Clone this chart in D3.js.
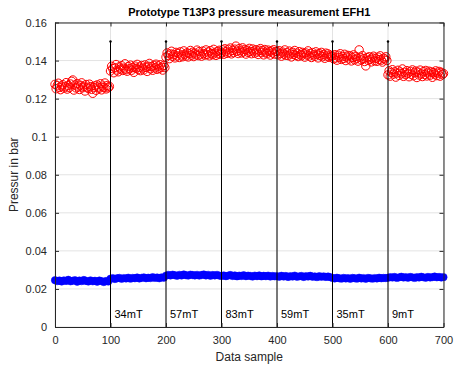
<!DOCTYPE html>
<html>
<head>
<meta charset="utf-8">
<script src="https://cdn.jsdelivr.net/npm/d3@7"></script>
<style>
    body { margin: 0; background: #fff; }
    text { font-family: "Liberation Sans", Arial, Helvetica, sans-serif; }
</style>
</head>
<body>
<div id="demo"></div>
<script>

// sample numbers of the plotted points
const redSamples = d3.range(0, 701, 2);
const blueSamples = d3.range(0, 701, 4);

// pressure, red open circles (every 2nd sample)
const redValues = [
    0.1275, 0.1252, 0.1268, 0.1281, 0.1259, 0.1247, 0.1266, 0.1273, 0.1255, 0.1262,
    0.1284, 0.1250, 0.1269, 0.1258, 0.1277, 0.1291, 0.1298, 0.1245, 0.1271, 0.1256,
    0.1279, 0.1261, 0.1248, 0.1270, 0.1283, 0.1257, 0.1265, 0.1240, 0.1274, 0.1260,
    0.1253, 0.1276, 0.1263, 0.1249, 0.1228, 0.1258, 0.1267, 0.1244, 0.1272, 0.1261,
    0.1255, 0.1278, 0.1246, 0.1266, 0.1259, 0.1282, 0.1251, 0.1269, 0.1257, 0.1264,

    0.1345, 0.1370, 0.1358, 0.1336, 0.1362, 0.1379, 0.1350, 0.1341, 0.1367, 0.1355,
    0.1373, 0.1348, 0.1360, 0.1383, 0.1352, 0.1344, 0.1369, 0.1357, 0.1376, 0.1349,
    0.1363, 0.1338, 0.1371, 0.1359, 0.1380, 0.1353, 0.1366, 0.1347, 0.1374, 0.1361,
    0.1351, 0.1377, 0.1364, 0.1343, 0.1370, 0.1385, 0.1356, 0.1368, 0.1349, 0.1375,
    0.1362, 0.1381, 0.1354, 0.1372, 0.1359, 0.1378, 0.1365, 0.1350, 0.1374, 0.1363,

    0.1418, 0.1440, 0.1427, 0.1410, 0.1435, 0.1449, 0.1422, 0.1431, 0.1414, 0.1443,
    0.1425, 0.1438, 0.1416, 0.1446, 0.1429, 0.1420, 0.1451, 0.1433, 0.1424, 0.1441,
    0.1419, 0.1436, 0.1453, 0.1428, 0.1444, 0.1421, 0.1439, 0.1430, 0.1455, 0.1426,
    0.1447, 0.1434, 0.1423, 0.1450, 0.1437, 0.1429, 0.1456, 0.1432, 0.1445, 0.1425,
    0.1452, 0.1438, 0.1431, 0.1459, 0.1440, 0.1427, 0.1448, 0.1435, 0.1454, 0.1433,

    0.1441, 0.1456, 0.1433, 0.1462, 0.1447, 0.1438, 0.1459, 0.1444, 0.1466, 0.1435,
    0.1453, 0.1442, 0.1460, 0.1476, 0.1449, 0.1437, 0.1463, 0.1451, 0.1440, 0.1467,
    0.1446, 0.1458, 0.1434, 0.1455, 0.1443, 0.1464, 0.1448, 0.1436, 0.1461, 0.1450,
    0.1439, 0.1457, 0.1445, 0.1432, 0.1454, 0.1463, 0.1441, 0.1452, 0.1430, 0.1458,
    0.1444, 0.1436, 0.1455, 0.1447, 0.1429, 0.1451, 0.1440, 0.1457, 0.1434, 0.1448,

    0.1448, 0.1430, 0.1452, 0.1437, 0.1423, 0.1445, 0.1434, 0.1456, 0.1428, 0.1441,
    0.1426, 0.1450, 0.1435, 0.1419, 0.1444, 0.1432, 0.1453, 0.1427, 0.1439, 0.1421,
    0.1447, 0.1431, 0.1425, 0.1443, 0.1436, 0.1418, 0.1440, 0.1429, 0.1451, 0.1424,
    0.1438, 0.1416, 0.1442, 0.1430, 0.1422, 0.1446, 0.1433, 0.1414, 0.1437, 0.1426,
    0.1443, 0.1420, 0.1431, 0.1412, 0.1439, 0.1424, 0.1435, 0.1417, 0.1428, 0.1421,

    0.1425, 0.1409, 0.1431, 0.1414, 0.1402, 0.1428, 0.1417, 0.1436, 0.1406, 0.1421,
    0.1411, 0.1433, 0.1400, 0.1419, 0.1427, 0.1408, 0.1424, 0.1398, 0.1415, 0.1430,
    0.1404, 0.1422, 0.1412, 0.1397, 0.1456, 0.1418, 0.1403, 0.1426, 0.1410, 0.1395,
    0.1372, 0.1416, 0.1401, 0.1420, 0.1407, 0.1393, 0.1414, 0.1423, 0.1399, 0.1411,
    0.1396, 0.1418, 0.1405, 0.1425, 0.1402, 0.1392, 0.1413, 0.1408, 0.1420, 0.1400,

    0.1325, 0.1346, 0.1318, 0.1337, 0.1352, 0.1329, 0.1341, 0.1313, 0.1334, 0.1349,
    0.1322, 0.1340, 0.1331, 0.1356, 0.1317, 0.1338, 0.1326, 0.1347, 0.1333, 0.1315,
    0.1343, 0.1328, 0.1351, 0.1320, 0.1336, 0.1345, 0.1311, 0.1339, 0.1324, 0.1350,
    0.1330, 0.1316, 0.1342, 0.1327, 0.1348, 0.1319, 0.1335, 0.1344, 0.1323, 0.1340,
    0.1312, 0.1337, 0.1329, 0.1346, 0.1321, 0.1334, 0.1343, 0.1318, 0.1338, 0.1326, 0.1332
];

// pressure, blue filled dots (every 4th sample)
const blueValues = [
    0.0246, 0.0241, 0.0244, 0.0239, 0.0245, 0.0242, 0.0248, 0.0240, 0.0243, 0.0246, 0.0238, 0.0244, 0.0241, 0.0247, 0.0242, 0.0239, 0.0245, 0.0240, 0.0243, 0.0238, 0.0244, 0.0241, 0.0236, 0.0242, 0.0239,
    0.0254, 0.0257, 0.0252, 0.0256, 0.0258, 0.0253, 0.0257, 0.0255, 0.0259, 0.0254, 0.0258, 0.0256, 0.0260, 0.0255, 0.0258, 0.0261, 0.0256, 0.0259, 0.0257, 0.0262, 0.0258, 0.0260, 0.0256, 0.0261, 0.0259,
    0.0270, 0.0274, 0.0271, 0.0275, 0.0272, 0.0269, 0.0274, 0.0271, 0.0276, 0.0272, 0.0270, 0.0275, 0.0273, 0.0271, 0.0274, 0.0270, 0.0273, 0.0276, 0.0271, 0.0274, 0.0269, 0.0273, 0.0271, 0.0274, 0.0270,
    0.0268, 0.0271, 0.0267, 0.0270, 0.0273, 0.0268, 0.0271, 0.0266, 0.0270, 0.0268, 0.0272, 0.0267, 0.0270, 0.0268, 0.0265, 0.0270, 0.0267, 0.0271, 0.0266, 0.0269, 0.0267, 0.0270, 0.0265, 0.0268, 0.0266,
    0.0267, 0.0264, 0.0269, 0.0265, 0.0268, 0.0263, 0.0267, 0.0265, 0.0270, 0.0264, 0.0266, 0.0268, 0.0263, 0.0267, 0.0265, 0.0269, 0.0264, 0.0266, 0.0262, 0.0267, 0.0264, 0.0266, 0.0263, 0.0265, 0.0262,
    0.0258, 0.0255, 0.0259, 0.0256, 0.0254, 0.0258, 0.0255, 0.0257, 0.0253, 0.0258, 0.0256, 0.0254, 0.0259, 0.0255, 0.0257, 0.0253, 0.0258, 0.0256, 0.0254, 0.0257, 0.0255, 0.0259, 0.0256, 0.0258, 0.0257,
    0.0259, 0.0262, 0.0260, 0.0263, 0.0258, 0.0261, 0.0264, 0.0260, 0.0262, 0.0259, 0.0263, 0.0261, 0.0258, 0.0262, 0.0260, 0.0264, 0.0261, 0.0259, 0.0263, 0.0260, 0.0262, 0.0265, 0.0261, 0.0263, 0.0260, 0.0262
];

// stems marking the field changes
const stemSamples = [100, 200, 300, 400, 500, 600];
const stemValues = [0.15, 0.15, 0.15, 0.15, 0.15, 0.15];
const stemLabels = ["34mT", "57mT", "83mT", "59mT", "35mT", "9mT"];
const labelValue = 0.007;

// ticks
const xTicks = [0, 100, 200, 300, 400, 500, 600, 700];
const yTicks = [0, 0.02, 0.04, 0.06, 0.08, 0.1, 0.12, 0.14, 0.16];

const title = "Prototype T13P3 pressure measurement EFH1";
const xTitle = "Data sample";
const yTitle = "Pressur in bar";

// size and plot box
let W = 454, H = 370;
let m = {top: 22.5, right: 10.5, bottom: 43, left: 55};

let svg = d3.select("#demo")
    .append("svg")
    .attr("width", W)
    .attr("height", H);

let x = d3.scaleLinear().domain([0, 700]).range([m.left, W - m.right]);
let y = d3.scaleLinear().domain([0, 0.16]).range([H - m.bottom, m.top]);

const axisColor = "#262626";
const fmt = d => String(+d.toFixed(2));

// grid
let grid = svg.append("g");
grid.selectAll(".gx").data(xTicks).enter().append("line")
    .attr("x1", d => x(d)).attr("x2", d => x(d))
    .attr("y1", y(0)).attr("y2", y(0.16))
    .attr("stroke", "#e3e3e3").attr("stroke-width", 1);
grid.selectAll(".gy").data(yTicks).enter().append("line")
    .attr("y1", d => y(d)).attr("y2", d => y(d))
    .attr("x1", x(0)).attr("x2", x(700))
    .attr("stroke", "#e3e3e3").attr("stroke-width", 1);

// red open circles
svg.append("g").selectAll("circle")
    .data(redValues)
    .enter().append("circle")
    .attr("cx", (d, i) => x(redSamples[i]))
    .attr("cy", d => y(d))
    .attr("r", 4.2)
    .attr("fill", "none")
    .attr("stroke", "#ff0000")
    .attr("stroke-width", 1);

// blue dots
svg.append("g").selectAll("circle")
    .data(blueValues)
    .enter().append("circle")
    .attr("cx", (d, i) => x(blueSamples[i]))
    .attr("cy", d => y(d))
    .attr("r", 3.7)
    .attr("fill", "#0000ff")
    .attr("stroke", "#0000ff")
    .attr("stroke-width", 0.5);

// stems with labels
let stems = svg.append("g");
stems.selectAll("line").data(stemSamples).enter().append("line")
    .attr("x1", d => x(d)).attr("x2", d => x(d))
    .attr("y1", y(0)).attr("y2", (d, i) => y(stemValues[i]))
    .attr("stroke", "#000").attr("stroke-width", 1);
stems.selectAll("circle").data(stemSamples).enter().append("circle")
    .attr("cx", d => x(d)).attr("cy", (d, i) => y(stemValues[i]))
    .attr("r", 1.2).attr("fill", "#000");
stems.selectAll("text").data(stemLabels).enter().append("text")
    .attr("x", (d, i) => x(stemSamples[i]) + 4)
    .attr("y", y(labelValue))
    .attr("dy", "0.35em")
    .attr("font-size", "11px")
    .attr("fill", "#000")
    .text(d => d);

// axes (box with inward ticks)
let xAxis = d3.axisBottom(x).tickValues(xTicks).tickSizeInner(-4).tickSizeOuter(0).tickPadding(9).tickFormat(d3.format("d"));
let yAxis = d3.axisLeft(y).tickValues(yTicks).tickSizeInner(-4).tickSizeOuter(0).tickPadding(8).tickFormat(fmt);
let xTop = d3.axisTop(x).tickValues(xTicks).tickSizeInner(-4).tickSizeOuter(0).tickFormat("");
let yRight = d3.axisRight(y).tickValues(yTicks).tickSizeInner(-4).tickSizeOuter(0).tickFormat("");

function styleAxis(g) {
    g.selectAll("path, line").attr("stroke", axisColor);
    g.selectAll("text").attr("fill", axisColor).attr("font-size", "11px")
        .attr("font-family", "'Liberation Sans', Arial, sans-serif");
}

svg.append("g").attr("transform", "translate(0," + y(0) + ")").call(xAxis).call(styleAxis);
svg.append("g").attr("transform", "translate(" + x(0) + ",0)").call(yAxis).call(styleAxis);
svg.append("g").attr("transform", "translate(0," + y(0.16) + ")").call(xTop).call(styleAxis);
svg.append("g").attr("transform", "translate(" + x(700) + ",0)").call(yRight).call(styleAxis);

// titles
svg.append("text")
    .attr("x", (x(0) + x(700)) / 2).attr("y", 16)
    .attr("text-anchor", "middle")
    .attr("font-size", "11px").attr("font-weight", "bold")
    .attr("fill", "#000")
    .text(title);

svg.append("text")
    .attr("x", (x(0) + x(700)) / 2).attr("y", 361)
    .attr("text-anchor", "middle")
    .attr("font-size", "12px")
    .attr("fill", axisColor)
    .text(xTitle);

svg.append("text")
    .attr("transform", "translate(18," + (y(0.08)) + ") rotate(-90)")
    .attr("text-anchor", "middle")
    .attr("font-size", "12px")
    .attr("fill", axisColor)
    .text(yTitle);

</script>
</body>
</html>
